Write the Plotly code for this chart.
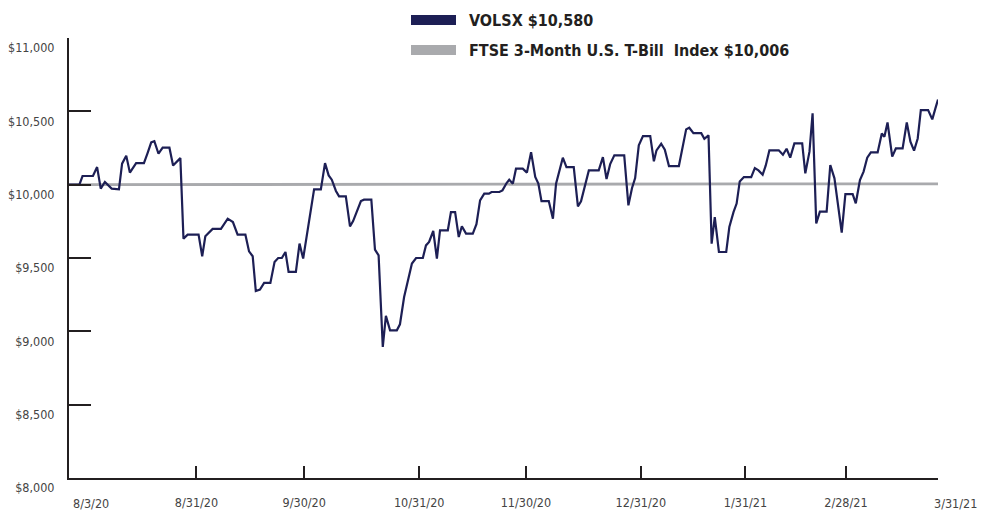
import plotly.graph_objects as go

# ---- data ----
# x: trading-day position (0 = 8/3/20 start, 167 = 3/31/21)
volsx_t = [0.0, 2.0, 2.6, 4.6, 5.4, 6.1, 6.9, 8.2, 9.6, 10.2, 11.0, 11.7, 12.9, 14.4, 15.1, 15.8,
           16.4, 17.2, 18.0, 19.3, 20.0, 21.4, 22.0, 22.8, 24.9, 25.6, 26.2, 27.6, 29.2, 30.5,
           31.5, 32.4, 33.9, 34.6, 35.3, 35.9, 36.7, 37.5, 38.7, 39.5, 40.2, 40.9, 41.6, 42.2,
           43.6, 44.3, 45.0, 46.2, 47.1, 48.4, 49.2, 49.9, 50.5, 51.3, 51.9, 53.2, 54.0, 54.6,
           56.1, 56.7, 58.1, 58.8, 59.5, 60.3, 60.9, 61.7, 63.0, 63.6, 64.4, 65.9, 66.7, 68.0,
           68.6, 69.2, 70.0, 70.7, 71.3, 72.8, 73.4, 74.2, 74.9, 75.5, 76.3, 77.6, 78.3, 79.0,
           79.8, 80.7, 81.2, 82.7, 83.3, 84.1, 84.6, 85.3, 85.9, 87.2, 88.0, 88.8, 89.6, 90.2,
           90.8, 92.2, 93.0, 93.6, 94.4, 94.9, 95.6, 97.0, 97.8, 98.4, 99.9, 101.8, 102.6, 103.3,
           104.0, 104.8, 106.7, 107.5, 108.2, 108.8, 109.5, 110.3, 111.7, 112.4, 112.9, 113.8,
           114.5, 115.3, 117.2, 117.8, 118.6, 119.2, 120.0, 121.5, 122.1, 122.9, 123.5, 124.1,
           124.9, 126.3, 126.9, 127.7, 128.3, 128.9, 129.7, 131.1, 131.8, 132.5, 133.3, 133.9,
           134.6, 136.4, 137.2, 137.9, 138.6, 139.4, 140.9, 141.5, 142.3, 142.9, 143.6, 144.3,
           145.6, 146.3, 147.1, 148.5, 149.2, 150.6, 151.2, 152.0, 152.7, 153.4, 154.1, 155.4,
           156.2, 156.7, 157.3, 158.2, 158.9, 160.2, 161.0, 161.7, 162.4, 163.1, 163.7, 165.1,
           165.9, 166.5, 167.0]
volsx_val = [10000, 10000, 10059, 10059, 10120, 9973, 10018, 9973, 9968, 10143, 10198, 10082,
             10147, 10147, 10215, 10288, 10297, 10211, 10252, 10252, 10131, 10181, 9632, 9659,
             9659, 9512, 9648, 9698, 9698, 9768, 9745, 9659, 9659, 9545, 9512, 9275, 9285, 9330,
             9330, 9473, 9500, 9500, 9541, 9405, 9405, 9598, 9496, 9757, 9968, 9968, 10147, 10063,
             10034, 9957, 9920, 9920, 9716, 9752, 9888, 9898, 9898, 9557, 9518, 8894, 9105, 9007,
             9007, 9048, 9234, 9462, 9500, 9500, 9586, 9609, 9684, 9496, 9689, 9689, 9813, 9813,
             9643, 9716, 9666, 9666, 9730, 9893, 9939, 9939, 9950, 9950, 9961, 10011, 10034,
             10007, 10109, 10109, 10082, 10222, 10052, 10007, 9888, 9888, 9768, 10007, 10120,
             10184, 10120, 10120, 9852, 9886, 10097, 10097, 10188, 10038, 10140, 10200, 10200,
             9859, 9977, 10045, 10268, 10331, 10331, 10159, 10234, 10279, 10238, 10127, 10127,
             10234, 10377, 10388, 10351, 10351, 10313, 10336, 9598, 9779, 9541, 9541, 9711, 9813,
             9871, 10022, 10052, 10052, 10113, 10097, 10068, 10131, 10234, 10234, 10204, 10245,
             10184, 10281, 10281, 10077, 10225, 10486, 9736, 9816, 9816, 10134, 10043, 9673,
             9936, 9936, 9873, 10031, 10089, 10184, 10220, 10220, 10349, 10327, 10424, 10191,
             10247, 10247, 10424, 10293, 10232, 10315, 10508, 10508, 10445, 10520, 10580]

tbill_t = [0.0, 24.5, 45.2, 67.3, 87.8, 109.9, 130.0, 149.3, 167.0]
tbill_val = [10000, 10001, 10002, 10003, 10004, 10005, 10005, 10006, 10006]

tick_t = [24.5, 45.2, 67.3, 87.8, 109.9, 130.0, 149.3, 167.0]
tick_labels = ["8/31/20", "9/30/20", "10/31/20", "11/30/20", "12/31/20", "1/31/21", "2/28/21", ""]
edge_labels = ["8/3/20", "3/31/21"]

y_ticks = [8000, 8500, 9000, 9500, 10000, 10500, 11000]
y_labels = ["$8,000", "$8,500", "$9,000", "$9,500", "$10,000", "$10,500", "$11,000"]

legend_names = ["VOLSX $10,580", "FTSE 3-Month U.S. T-Bill\u00a0 Index $10,006"]
NAVY = "#1d1f55"
GRAY = "#a9aaad"

FONT = "Liberation Sans Narrow, DejaVu Sans Condensed, Arial Narrow, sans-serif"

# page has an 8px body margin; work in screen pixels and convert
OFF = 8
FW, FH = 980, 509
PL, PR, PT, PB = 69, 938, 37.9, 478.3     # plot area in screen px
L, T = PL - OFF, PT - OFF
R = FW - (PR - OFF)
B = FH - (PB - OFF)
W, H = PR - PL, PB - PT


def px_x(x):
    return (x - PL) / W


def px_y(y):
    return (PB - y) / H


fig = go.Figure()
fig.add_trace(go.Scatter(x=tbill_t, y=tbill_val, mode="lines",
                         line=dict(color=GRAY, width=2.8), name=legend_names[1],
                         hoverinfo="skip"))
fig.add_trace(go.Scatter(x=volsx_t, y=volsx_val, mode="lines",
                         line=dict(color=NAVY, width=2.2), name=legend_names[0]))

# ---- legend drawn as shapes + text ----
for i, (name, col) in enumerate(zip(legend_names, [NAVY, GRAY])):
    yc = 20 + 30 * i
    fig.add_shape(type="rect", xref="paper", yref="paper",
                  x0=px_x(411), x1=px_x(456), y0=px_y(yc + 5), y1=px_y(yc - 5),
                  fillcolor=col, line=dict(width=0))
    fig.add_annotation(xref="paper", yref="paper", x=px_x(467), y=px_y(yc),
                       xanchor="left", yanchor="middle", showarrow=False,
                       text="<b>%s</b>" % name,
                       font=dict(family=FONT, size=16, color="#231f20"))

for xs, lab in zip([91, 956], edge_labels):
    fig.add_annotation(xref="paper", yref="paper", x=px_x(xs), y=px_y(504),
                       xanchor="center", yanchor="middle", showarrow=False, text=lab,
                       font=dict(family=FONT, size=12.5, color="#444444"))

fig.update_layout(
    width=FW, height=FH,
    margin=dict(l=L, r=R, t=T, b=B, autoexpand=False),
    paper_bgcolor="white", plot_bgcolor="white",
    showlegend=False,
    font=dict(family=FONT, size=12.5, color="#444444"),
)
fig.update_xaxes(range=[0, 167], showgrid=False, zeroline=False,
                 showline=True, linecolor="#231f20", linewidth=2,
                 ticks="inside", ticklen=12, tickwidth=1.5, tickcolor="#231f20",
                 tickvals=tick_t, ticktext=tick_labels, ticklabelstandoff=12,
                 tickfont=dict(family=FONT, size=12.5, color="#444444"))
fig.update_yaxes(range=[8000, 11000], showgrid=False, zeroline=False,
                 showline=True, linecolor="#231f20", linewidth=2,
                 ticks="inside", ticklen=22, tickwidth=2, tickcolor="#231f20",
                 tickvals=y_ticks, ticktext=y_labels,
                 ticklabelstandoff=10, ticklabelshift=10,
                 tickfont=dict(family=FONT, size=12.5, color="#444444"))

fig.write_html("out.html")
